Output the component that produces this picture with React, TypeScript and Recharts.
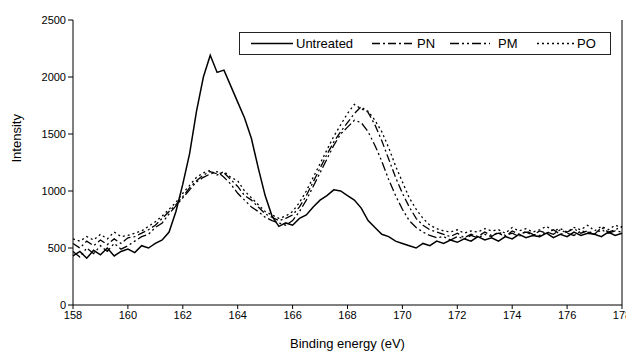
import { LineChart, Line, XAxis, YAxis, ReferenceLine } from "recharts";

// binding energy grid (eV), 0.25 eV steps
const energy: number[] = Array.from({ length: 81 }, (_, i) => 158 + i * 0.25);

const untreated = [
  430, 470, 410, 480, 440, 500, 430, 470, 490, 460, 520, 500, 540, 570, 640, 820,
  1060, 1330, 1700, 2000, 2190, 2040, 2060, 1920, 1780, 1640, 1460, 1200, 960, 780,
  690, 720, 700, 760, 790, 860, 920, 960, 1010, 1000, 960, 920, 850, 740, 680, 620,
  600, 560, 540, 520, 500, 540, 520, 560, 540, 570, 550, 580, 560, 600, 570, 590,
  560, 600, 580, 620, 590, 610, 600, 630, 590, 620, 600, 640, 610, 630, 620, 600,
  640, 610, 630,
];

const pn = [
  540, 500, 560, 520, 570, 530, 580, 540, 590, 600, 630, 660, 700, 760, 820, 880,
  950, 1030, 1090, 1140, 1170, 1150, 1160, 1100, 1040, 960, 920, 860, 800, 770,
  740, 760, 790, 860, 960, 1080, 1200, 1320, 1430, 1520, 1600, 1680, 1740, 1690, 1580, 1440,
  1280, 1120, 980, 860, 760, 700, 660, 640, 620, 600, 630, 590, 620, 600, 640, 610,
  630, 600, 650, 620, 640, 610, 650, 630, 660, 620, 640, 670, 630, 650, 620, 680,
  640, 660, 690,
];

const pm = [
  470, 420, 500, 450, 520, 470, 540, 490, 520, 560, 600, 620, 680, 720, 800, 870,
  940, 1010, 1080, 1120, 1150, 1170, 1120, 1060, 980, 920, 860, 820, 770, 740,
  720, 700, 740, 820, 920, 1040, 1160, 1280, 1400, 1500, 1560, 1620, 1600, 1520, 1400, 1260,
  1100, 960, 840, 740, 680, 640, 610, 590, 600, 570, 600, 580, 610, 590, 620, 600,
  640, 610, 630, 600, 650, 620, 610, 640, 620, 660, 630, 610, 650, 640, 620, 660,
  630, 650, 640,
];

const po = [
  580, 560, 600, 570, 620, 580, 640, 600, 610, 630, 650, 690, 730, 780, 840, 900,
  980, 1050, 1120, 1160, 1180, 1140, 1170, 1120, 1090, 1000, 940, 880, 820, 790,
  760, 780, 820, 900, 1000, 1120, 1240, 1360, 1480, 1580, 1680, 1760, 1720, 1700, 1620, 1520,
  1380, 1220, 1080, 940, 840, 760, 700, 670, 650, 640, 660, 630, 650, 640, 670, 650,
  660, 630, 680, 650, 670, 640, 660, 690, 650, 670, 640, 680, 660, 700, 650, 690,
  660, 700, 680,
];

const xTicks = [158, 160, 162, 164, 166, 168, 170, 172, 174, 176, 178];
const yTicks = [0, 500, 1000, 1500, 2000, 2500];

const data = energy.map((e, i) => ({
  e,
  untreated: untreated[i],
  pn: pn[i],
  pm: pm[i],
  po: po[i],
}));

const FONT = "'Liberation Sans', Arial, sans-serif";

function LegendBox() {
  const items = [
    { name: "Untreated", x1: 12, x2: 54, tx: 57, dash: undefined },
    { name: "PN", x1: 133, x2: 173, tx: 178, dash: "8 3 2 3" },
    { name: "PM", x1: 211, x2: 251, tx: 259, dash: "9 3 2 3 2 3" },
    { name: "PO", x1: 298, x2: 337, tx: 338, dash: "2 3" },
  ];
  return (
    <svg width={372} height={23} style={{ display: "block" }}>
      <rect x={0.5} y={0.5} width={371} height={22} fill="#fff" stroke="#222" strokeWidth={1} />
      {items.map((it) => (
        <g key={it.name}>
          <line x1={it.x1} x2={it.x2} y1={11.5} y2={11.5} stroke="#000" strokeWidth={1.5} strokeDasharray={it.dash} />
          <text x={it.tx} y={16} fontSize={13} fontFamily={FONT} fill="#000">
            {it.name}
          </text>
        </g>
      ))}
    </svg>
  );
}

export default function App() {
  return (
    <div style={{ position: "absolute", left: 0, top: 0, width: 626, height: 354, background: "#fff" }}>
      <LineChart width={626} height={354} data={data} margin={{ top: 20, right: 4, left: 0, bottom: 0 }}>
        <XAxis
          dataKey="e"
          type="number"
          domain={[158, 178]}
          ticks={xTicks}
          interval={0}
          height={49}
          stroke="#000"
          tickSize={4}
          tick={{ fontSize: 11, fill: "#000", fontFamily: FONT }}
          label={{ value: "Binding energy (eV)", position: "insideBottom", offset: 6, fontSize: 13, fill: "#000", fontFamily: FONT }}
        />
        <YAxis
          type="number"
          domain={[0, 2500]}
          ticks={yTicks}
          interval={0}
          width={73}
          stroke="#000"
          tickSize={5}
          tick={{ fontSize: 11, fill: "#000", fontFamily: FONT }}
          label={{ value: "Intensity", angle: -90, position: "insideLeft", offset: 16, fontSize: 13, fill: "#000", fontFamily: FONT }}
        />
        <ReferenceLine x={178} stroke="#000" />
        <Line dataKey="untreated" stroke="#000" strokeWidth={1.5} dot={false} isAnimationActive={false} />
        <Line dataKey="pn" stroke="#000" strokeWidth={1.3} strokeDasharray="8 3 2 3" dot={false} isAnimationActive={false} />
        <Line dataKey="pm" stroke="#000" strokeWidth={1.3} strokeDasharray="9 3 2 3 2 3" dot={false} isAnimationActive={false} />
        <Line dataKey="po" stroke="#000" strokeWidth={1.3} strokeDasharray="2 3" dot={false} isAnimationActive={false} />
      </LineChart>
      <div style={{ position: "absolute", left: 239, top: 32 }}>
        <LegendBox />
      </div>
    </div>
  );
}
